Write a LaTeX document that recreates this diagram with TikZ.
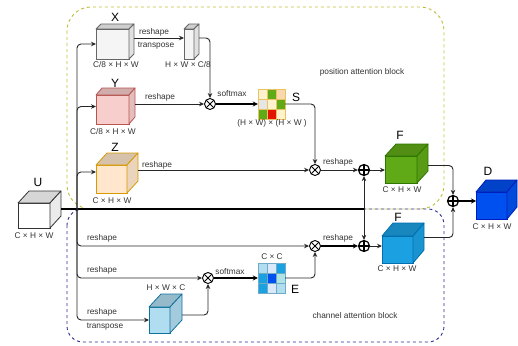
\documentclass[tikz,border=0pt]{standalone}
\usepackage{fontspec}
\setmainfont{Liberation Sans}
\usetikzlibrary{arrows.meta,calc}
\definecolor{txt}{HTML}{333333}
\definecolor{posc}{HTML}{BDBD3A}
\definecolor{chc}{HTML}{2E2E8F}
\definecolor{grayF}{HTML}{F5F5F5}\definecolor{grayS}{HTML}{666666}
\definecolor{redF}{HTML}{F8CECC}\definecolor{redS}{HTML}{B85450}
\definecolor{orF}{HTML}{FFE6CC}\definecolor{orS}{HTML}{D79B00}
\definecolor{grF}{HTML}{60A917}\definecolor{grS}{HTML}{2D7600}
\definecolor{blF}{HTML}{1BA1E2}\definecolor{blS}{HTML}{006EAF}
\definecolor{dbF}{HTML}{0050EF}\definecolor{dbS}{HTML}{001DBC}
\definecolor{lbF}{HTML}{B1DDF0}\definecolor{lbS}{HTML}{10739E}
\definecolor{mY}{HTML}{FFF2CC}\definecolor{mG}{HTML}{60A917}\definecolor{mP}{HTML}{FAD7AC}
\definecolor{mGr}{HTML}{E6E6E6}\definecolor{mR}{HTML}{E51400}
\definecolor{eL}{HTML}{B1DDF0}\definecolor{eV}{HTML}{DAE8FC}\definecolor{eB}{HTML}{1BA1E2}
\definecolor{eD}{HTML}{0050EF}\definecolor{eT}{HTML}{B0E3E6}
\newcommand{\cubefaces}[5]{%
  \filldraw[fill=#4!84!black, draw=#5, line width=0.8pt, line join=round] (#1.north west) -- ++(#2,#3) -- ($(#1.north east)+(#2,#3)$) -- (#1.north east) -- cycle;
  \filldraw[fill=#4!92!black, draw=#5, line width=0.8pt, line join=round] (#1.north east) -- ++(#2,#3) -- ($(#1.south east)+(#2,#3)$) -- (#1.south east) -- cycle;
}
\tikzset{
  front/.style={draw, line width=0.8pt, inner sep=0pt, outer sep=0pt},
  sm/.style={text=txt, font=\fontsize{8.3}{10}\selectfont, inner sep=0pt},
  big/.style={text=black, font=\fontsize{12}{14}\selectfont, inner sep=0pt},
  conn/.style={draw=black!85, line width=0.9pt, -{Stealth[length=5pt,width=4.5pt]}},
  thk/.style={draw=black, line width=1.7pt, -{Stealth[length=5pt,width=5pt]}},
  otimes/.style={circle, draw, line width=0.9pt, fill=white, minimum size=11pt, inner sep=0pt,
    path picture={\draw[line width=0.9pt] (path picture bounding box.north west)--(path picture bounding box.south east)
      (path picture bounding box.south west)--(path picture bounding box.north east);}},
  oplus/.style={circle, draw, line width=1.2pt, fill=white, minimum size=11pt, inner sep=0pt,
    path picture={\draw[line width=1.2pt] (path picture bounding box.north)--(path picture bounding box.south)
      (path picture bounding box.west)--(path picture bounding box.east);}},
}
\begin{document}
\begin{tikzpicture}[x=1pt,y=-1pt]
\useasboundingbox (0,0) rectangle (518,345);
% blocks
\draw[posc, line width=0.9pt, dash pattern=on 3pt off 3pt, rounded corners=24pt] (67,7) rectangle (444,209);
\draw[chc, line width=0.9pt, dash pattern=on 3pt off 3pt, rounded corners=16pt] (67,209) rectangle (444,342);
\node[sm] (pab) at (362,72) {position attention block};
\node[sm] (cab) at (355,316) {channel attention block};

% cubes (front faces)
\node[front, fill=grayF, draw=grayS, minimum width=33pt, minimum height=30pt] (X) at (112.5,44) {};
\node[front, fill=grayF, draw=grayS, minimum width=10pt, minimum height=30pt] (XT) at (189,44) {};
\node[front, fill=redF, draw=redS, minimum width=33pt, minimum height=29pt] (Y) at (112.5,109.5) {};
\node[front, fill=orF, draw=orS, minimum width=31pt, minimum height=28pt] (Z) at (111.5,179) {};
\node[front, fill=white, draw=black!80, minimum width=32pt, minimum height=25pt] (U) at (34,215.5) {};
\node[front, fill=grF, draw=grS, minimum width=32pt, minimum height=27pt] (Fg) at (401,169.5) {};
\node[front, fill=blF, draw=blS, minimum width=31pt, minimum height=27pt] (Fb) at (397.5,249.5) {};
\node[front, fill=dbF, draw=dbS, minimum width=31pt, minimum height=27pt] (D) at (491.5,205.5) {};
\node[front, fill=lbF, draw=lbS, minimum width=21pt, minimum height=26pt] (HWC) at (159.5,320) {};
\cubefaces{X}{5}{-5}{grayF}{grayS}
\cubefaces{XT}{5}{-5}{grayF}{grayS}
\cubefaces{Y}{6}{-7}{redF}{redS}
\cubefaces{Z}{11}{-12}{orF}{orS}
\cubefaces{U}{11}{-12}{white}{black!80}
\cubefaces{Fg}{11}{-12}{grF}{grS}
\cubefaces{Fb}{11}{-13}{blF}{blS}
\cubefaces{D}{10}{-12}{dbF}{dbS}
\cubefaces{HWC}{12}{-13}{lbF}{lbS}

% matrices
\node[inner sep=0pt, minimum width=27pt, minimum height=30pt] (S) at (271.5,104) {};
\foreach \cx/\cy/\cc in {0/0/mY,1/0/mG,2/0/mP,0/1/mGr,1/1/mY,2/1/mG,0/2/mG,1/2/mR,2/2/mY}
  \filldraw[fill=\cc, draw=orS!60, line width=0.5pt] ($(S.north west)+(\cx*9,\cy*10)$) rectangle ++(9,10);
\node[inner sep=0pt, minimum width=27pt, minimum height=30pt] (E) at (271.5,278) {};
\foreach \cx/\cy/\cc in {0/0/eL,1/0/eV,2/0/eB,0/1/eB,1/1/eD,2/1/eT,0/2/eB,1/2/eV,2/2/eL}
  \filldraw[fill=\cc, draw=lbS!60, line width=0.5pt] ($(E.north west)+(\cx*9,\cy*10)$) rectangle ++(9,10);

% operators
\node[otimes] (m1) at (210,104) {};
\node[otimes] (m2) at (315,170) {};
\node[oplus] (p1) at (364,170) {};
\node[otimes] (m3) at (315,246) {};
\node[oplus] (p2) at (364,246) {};
\node[otimes] (m4) at (208,278) {};
\node[oplus] (p3) at (453,201) {};
\coordinate (J) at (364,209);
\coordinate (T) at (77,209);
\coordinate (Uo) at (61,209);

% connectors
\draw[black, line width=1.5pt] (Uo) -- (J);
\draw[conn, rounded corners=4pt] (T) |- (X.west);
\draw[conn, rounded corners=4pt] (T) |- ($(Y.west)+(0,-3)$);
\draw[conn, rounded corners=4pt] (T) |- ($(Z.west)+(0,-7)$);
\draw[conn, rounded corners=4pt] (T) |- (m3.west);
\draw[conn, rounded corners=4pt] (T) |- (m4.west);
\draw[conn, rounded corners=4pt] (T) |- (HWC.west);
\draw[conn] ($(X.east)+(5,-6)$) -- ($(XT.west)+(0,-6)$);
\draw[conn, rounded corners=4pt] ($(XT.east)+(5,-6)$) -| (m1.north);
\draw[conn] ($(Y.east |- m1)+(6,0)$) -- (m1.west);
\draw[thk] (m1.east) -- (S.west);
\draw[conn, rounded corners=4pt] (S.east) -| (m2.north);
\draw[conn] ($(Z.east |- m2)+(11,0)$) -- (m2.west);
\draw[conn] (m2.east) -- (p1.west);
\draw[conn] (p1.east) -- (p1 -| Fg.west);
\draw[conn] (J) -- (p1.south);
\draw[conn] (J) -- (p2.north);
\draw[thk] (m3.east) -- (p2.west);
\draw[conn] (p2.east) -- (p2 -| Fb.west);
\draw[conn, rounded corners=4pt] ($(HWC.east)+(12,-5)$) -| (m4.south);
\draw[thk] (m4.east) -- (E.west);
\draw[conn, rounded corners=4pt] (E.east) -| (m3.south);
\draw[conn, rounded corners=4pt] ($(Fg.east)+(11,-4)$) -| (p3.north);
\draw[conn, rounded corners=4pt] ($(Fb.east)+(11,-12)$) -| (p3.south);
\draw[thk] (p3.east) -- (p3 -| D.west);

% big labels
\node[big] (lX) at (115,17) {X};
\node[big] (lY) at (115,83) {Y};
\node[big] (lZ) at (115,147) {Z};
\node[big] (lU) at (38,182) {U};
\node[big] (lS) at (296,97) {S};
\node[big] (lE) at (295,289) {E};
\node[big] (lFg) at (400,135) {F};
\node[big] (lFb) at (398,217) {F};
\node[big] (lD) at (488,171) {D};

% dimension labels
\node[sm] (dX) at (116,65) {C/8 × H × W};
\node[sm] (dXT) at (188,65) {H × W × C/8};
\node[sm] (dY) at (113,132) {C/8 × H × W};
\node[sm] (dZ) at (112,201) {C × H × W};
\node[sm] (dU) at (34,236) {C × H × W};
\node[sm] (dFg) at (402,190) {C × H × W};
\node[sm] (dFb) at (397,269) {C × H × W};
\node[sm] (dD) at (492,227) {C × H × W};
\node[sm] (dH) at (166,288) {H × W × C};
\node[sm] (dE) at (272,257) {C × C};
\node[sm] (dS) at (272,123) {(H × W) × (H × W )};

% connector labels
\node[sm] (r1) at (154,32) {reshape};
\node[sm] (t1) at (156,46) {transpose};
\node[sm] (r2) at (160,97) {reshape};
\node[sm] (s1) at (232,94) {softmax};
\node[sm] (r3) at (157,165) {reshape};
\node[sm] (r4) at (338,162) {reshape};
\node[sm] (r5) at (102,238) {reshape};
\node[sm] (r6) at (338,238) {reshape};
\node[sm] (r7) at (102,270) {reshape};
\node[sm] (r8) at (102,312) {reshape};
\node[sm] (t2) at (105,327) {transpose};
\node[sm] (s2) at (230,272) {softmax};
\end{tikzpicture}
\end{document}
